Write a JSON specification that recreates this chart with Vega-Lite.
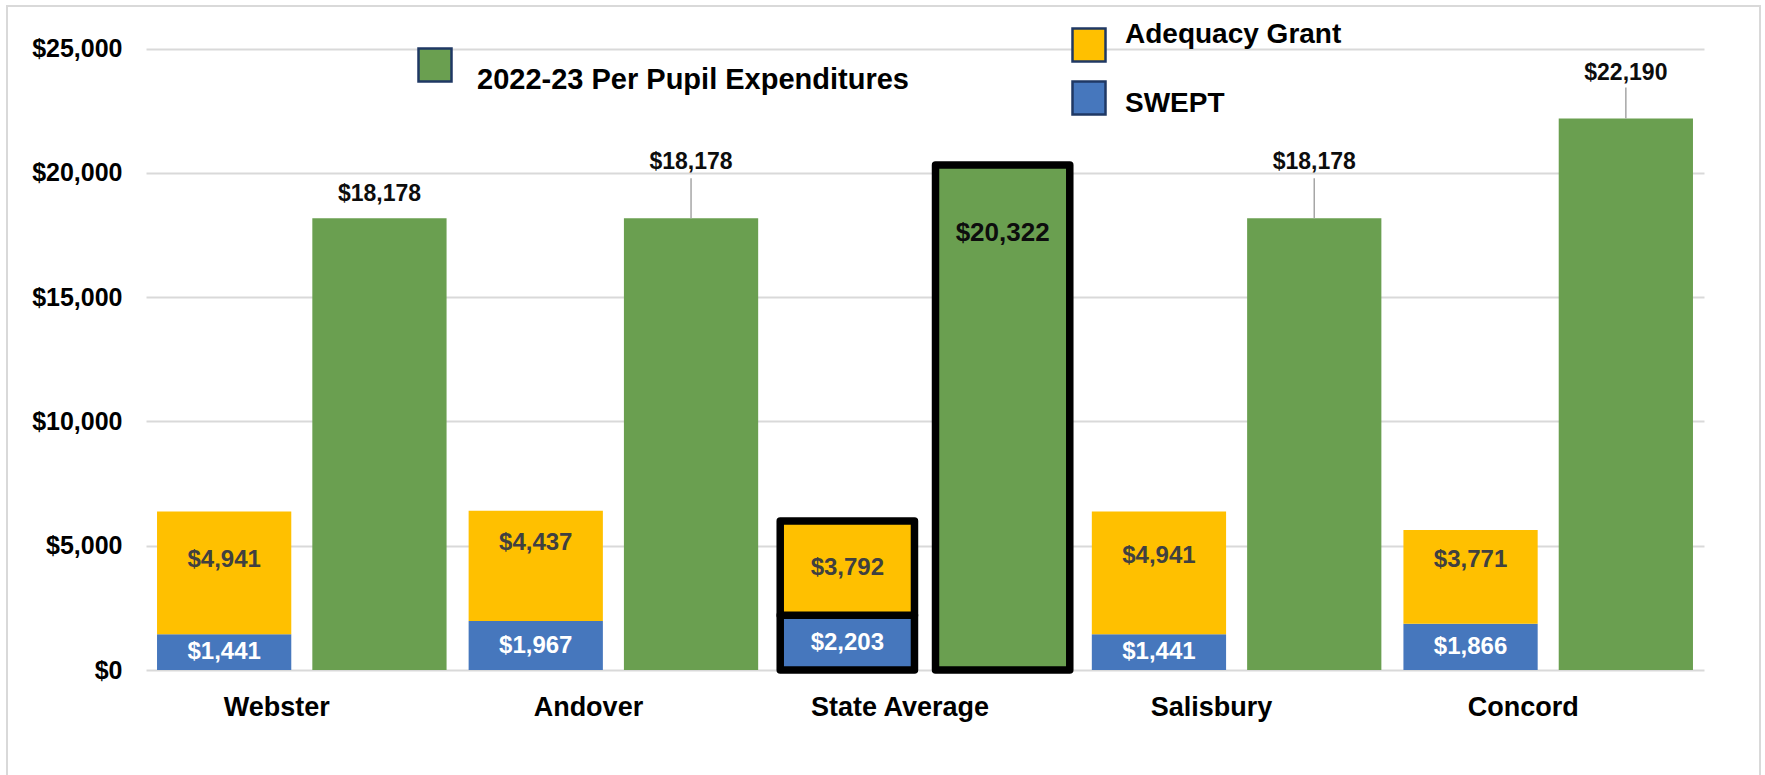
{
  "$schema": "https://vega.github.io/schema/vega-lite/v6.json",
  "autosize": "none",
  "width": 1753,
  "height": 771,
  "padding": {"left": 7, "top": 6, "right": 5, "bottom": -2},
  "background": "white",
  "config": {
    "view": {"stroke": "#D9D9D9", "strokeWidth": 2},
    "font": "Liberation Sans",
    "axis": {"labelFont": "Liberation Sans", "labelFontWeight": "bold", "labelColor": "#000000"},
    "text": {"font": "Liberation Sans", "fontWeight": "bold"}
  },
  "data": {
    "values": [
      {"district": "Webster", "group": "Revenue", "series": "SWEPT", "value": 1441},
      {"district": "Webster", "group": "Revenue", "series": "Adequacy Grant", "value": 4941},
      {"district": "Webster", "group": "Expenditure", "series": "2022-23 Per Pupil Expenditures", "value": 18178},
      {"district": "Andover", "group": "Revenue", "series": "SWEPT", "value": 1967},
      {"district": "Andover", "group": "Revenue", "series": "Adequacy Grant", "value": 4437},
      {"district": "Andover", "group": "Expenditure", "series": "2022-23 Per Pupil Expenditures", "value": 18178},
      {"district": "State Average", "group": "Revenue", "series": "SWEPT", "value": 2203},
      {"district": "State Average", "group": "Revenue", "series": "Adequacy Grant", "value": 3792},
      {"district": "State Average", "group": "Expenditure", "series": "2022-23 Per Pupil Expenditures", "value": 20322},
      {"district": "Salisbury", "group": "Revenue", "series": "SWEPT", "value": 1441},
      {"district": "Salisbury", "group": "Revenue", "series": "Adequacy Grant", "value": 4941},
      {"district": "Salisbury", "group": "Expenditure", "series": "2022-23 Per Pupil Expenditures", "value": 18178},
      {"district": "Concord", "group": "Revenue", "series": "SWEPT", "value": 1866},
      {"district": "Concord", "group": "Revenue", "series": "Adequacy Grant", "value": 3771},
      {"district": "Concord", "group": "Expenditure", "series": "2022-23 Per Pupil Expenditures", "value": 22190}
    ]
  },
  "encoding": {
    "x": {
      "field": "district", "type": "nominal",
      "sort": ["Webster", "Andover", "State Average", "Salisbury", "Concord"],
      "scale": {"range": [139, 1697], "paddingInner": 0, "paddingOuter": 0},
      "axis": {"title": null, "offset": -105, "labelPadding": 22, "labelFontSize": 27, "labelAngle": 0, "ticks": false, "domain": false, "labelOffset": -25, "grid": false}
    },
    "xOffset": {
      "field": "group", "type": "nominal",
      "scale": {"domain": ["Revenue", "Expenditure"], "paddingInner": 0.1355, "paddingOuter": 0.071}
    }
  },
  "layer": [
    {
      "transform": [{"filter": "datum.series === '2022-23 Per Pupil Expenditures'"}],
      "mark": {"type": "bar", "strokeJoin": "round"},
      "encoding": {
        "y": {
          "field": "value", "type": "quantitative", "stack": null,
          "scale": {"domain": [0, 25000], "range": [664, 42.7], "nice": false, "zero": true},
          "axis": {"title": null, "values": [0, 5000, 10000, 15000, 20000, 25000], "format": "$,.0f", "offset": -139, "labelPadding": 24, "labelFontSize": 25, "ticks": false, "domain": false, "grid": true, "gridColor": "#D9D9D9", "gridWidth": 2}
        },
        "color": {
          "field": "series", "type": "nominal",
          "scale": {"domain": ["2022-23 Per Pupil Expenditures"], "range": ["#6A9F50"]},
          "legend": {
            "orient": "none", "legendX": 410, "legendY": 41, "title": null, "padding": 0,
            "symbolType": "square", "symbolSize": 1089, "symbolStrokeColor": "#1F3864", "symbolStrokeWidth": 2.5, "symbolOpacity": 1,
            "labelFontSize": 29, "labelFont": "Liberation Sans", "labelFontWeight": "bold", "labelColor": "#000000", "labelOffset": 24, "labelLimit": 1000,
            "encode": {
              "labels": {"update": {"dy": {"value": 15}}},
              "symbols": {"update": {"fill": {"value": "#70AD47"}, "stroke": {"value": "#1F3864"}, "strokeWidth": {"value": 2.5}, "opacity": {"value": 1}}}
            }
          }
        },
        "stroke": {"condition": {"test": "datum.district === 'State Average'", "value": "#000000"}, "value": "transparent"},
        "strokeWidth": {"condition": {"test": "datum.district === 'State Average'", "value": 7.5}, "value": 0}
      }
    },
    {
      "transform": [{"filter": "datum.series !== '2022-23 Per Pupil Expenditures'"}],
      "mark": {"type": "bar", "strokeJoin": "round"},
      "encoding": {
        "y": {"field": "value", "type": "quantitative", "stack": "zero"},
        "fill": {
          "field": "series", "type": "nominal",
          "scale": {"domain": ["Adequacy Grant", "SWEPT"], "range": ["#FFC000", "#4677BD"]},
          "legend": {
            "orient": "none", "legendX": 1064, "legendY": 21, "title": null, "padding": 0, "rowPadding": 9,
            "symbolType": "square", "symbolSize": 1089, "symbolStrokeColor": "#1F3864", "symbolStrokeWidth": 2.5, "symbolOpacity": 1,
            "labelFontSize": 28, "labelFont": "Liberation Sans", "labelFontWeight": "bold", "labelColor": "#000000", "labelOffset": 18, "labelLimit": 1000,
            "encode": {
              "labels": {"update": {"dy": {"signal": "datum.value === 'SWEPT' ? 6 : -10"}}},
              "symbols": {"update": {"stroke": {"value": "#1F3864"}, "strokeWidth": {"value": 2.5}, "opacity": {"value": 1}}}
            }
          }
        },
        "order": {"field": "series", "sort": "descending"},
        "stroke": {"condition": {"test": "datum.district === 'State Average'", "value": "#000000"}, "value": "transparent"},
        "strokeWidth": {"condition": {"test": "datum.district === 'State Average'", "value": 7.5}, "value": 0}
      }
    },
    {
      "transform": [
        {"filter": "datum.series !== '2022-23 Per Pupil Expenditures'"},
        {"stack": "value", "groupby": ["district"], "sort": [{"field": "series", "order": "descending"}], "as": ["v0", "v1"]},
        {"fold": ["v0", "v1"], "as": ["edge", "pos"]},
        {"aggregate": [{"op": "mean", "field": "pos", "as": "mid"}], "groupby": ["district", "group", "series", "value"]}
      ],
      "layer": [
        {
          "transform": [{"filter": "datum.series === 'SWEPT'"}],
          "mark": {"type": "text", "fontSize": 24, "fontWeight": "bold", "color": "#FFFFFF", "baseline": "middle"},
          "encoding": {
            "y": {"field": "mid", "type": "quantitative"},
            "text": {"field": "value", "type": "quantitative", "format": "$,.0f"}
          }
        },
        {
          "transform": [{"filter": "datum.series === 'Adequacy Grant' && (datum.district === 'Salisbury' || datum.district === 'Concord')"}],
          "mark": {"type": "text", "fontSize": 24, "fontWeight": "bold", "color": "#404040", "baseline": "middle", "dy": -17},
          "encoding": {
            "y": {"field": "mid", "type": "quantitative"},
            "text": {"field": "value", "type": "quantitative", "format": "$,.0f"}
          }
        },
        {
          "transform": [{"filter": "datum.series === 'Adequacy Grant' && datum.district === 'Webster'"}],
          "mark": {"type": "text", "fontSize": 24, "fontWeight": "bold", "color": "#404040", "baseline": "middle", "dy": -13},
          "encoding": {
            "y": {"field": "mid", "type": "quantitative"},
            "text": {"field": "value", "type": "quantitative", "format": "$,.0f"}
          }
        },
        {
          "transform": [{"filter": "datum.series === 'Adequacy Grant' && datum.district === 'Andover'"}],
          "mark": {"type": "text", "fontSize": 24, "fontWeight": "bold", "color": "#404040", "baseline": "middle", "dy": -23},
          "encoding": {
            "y": {"field": "mid", "type": "quantitative"},
            "text": {"field": "value", "type": "quantitative", "format": "$,.0f"}
          }
        },
        {
          "transform": [{"filter": "datum.series === 'Adequacy Grant' && datum.district === 'State Average'"}],
          "mark": {"type": "text", "fontSize": 24, "fontWeight": "bold", "color": "#404040", "baseline": "middle"},
          "encoding": {
            "y": {"field": "mid", "type": "quantitative"},
            "text": {"field": "value", "type": "quantitative", "format": "$,.0f"}
          }
        }
      ]
    },
    {
      "transform": [{"filter": "datum.series === '2022-23 Per Pupil Expenditures' && (datum.district === 'Andover' || datum.district === 'Salisbury')"}],
      "mark": {"type": "rule", "color": "#A6A6A6", "strokeWidth": 1.5, "y2Offset": -40},
      "encoding": {
        "y": {"field": "value", "type": "quantitative"},
        "y2": {"field": "value"}
      }
    },
    {
      "transform": [{"filter": "datum.series === '2022-23 Per Pupil Expenditures' && datum.district === 'Concord'"}],
      "mark": {"type": "rule", "color": "#A6A6A6", "strokeWidth": 1.5, "y2Offset": -31},
      "encoding": {
        "y": {"field": "value", "type": "quantitative"},
        "y2": {"field": "value"}
      }
    },
    {
      "transform": [{"filter": "datum.series === '2022-23 Per Pupil Expenditures' && datum.district === 'Webster'"}],
      "mark": {"type": "text", "fontSize": 23, "fontWeight": "bold", "color": "#0D0D0D", "baseline": "alphabetic", "dy": -17},
      "encoding": {
        "y": {"field": "value", "type": "quantitative"},
        "text": {"field": "value", "type": "quantitative", "format": "$,.0f"}
      }
    },
    {
      "transform": [{"filter": "datum.series === '2022-23 Per Pupil Expenditures' && (datum.district === 'Andover' || datum.district === 'Salisbury')"}],
      "mark": {"type": "text", "fontSize": 23, "fontWeight": "bold", "color": "#0D0D0D", "baseline": "alphabetic", "dy": -49},
      "encoding": {
        "y": {"field": "value", "type": "quantitative"},
        "text": {"field": "value", "type": "quantitative", "format": "$,.0f"}
      }
    },
    {
      "transform": [{"filter": "datum.series === '2022-23 Per Pupil Expenditures' && datum.district === 'Concord'"}],
      "mark": {"type": "text", "fontSize": 23, "fontWeight": "bold", "color": "#0D0D0D", "baseline": "alphabetic", "dy": -38.5},
      "encoding": {
        "y": {"field": "value", "type": "quantitative"},
        "text": {"field": "value", "type": "quantitative", "format": "$,.0f"}
      }
    },
    {
      "transform": [{"filter": "datum.series === '2022-23 Per Pupil Expenditures' && datum.district === 'State Average'"}],
      "mark": {"type": "text", "fontSize": 26, "fontWeight": "bold", "color": "#0D0D0D", "baseline": "alphabetic", "dy": 76},
      "encoding": {
        "y": {"field": "value", "type": "quantitative"},
        "text": {"field": "value", "type": "quantitative", "format": "$,.0f"}
      }
    }
  ]
}
